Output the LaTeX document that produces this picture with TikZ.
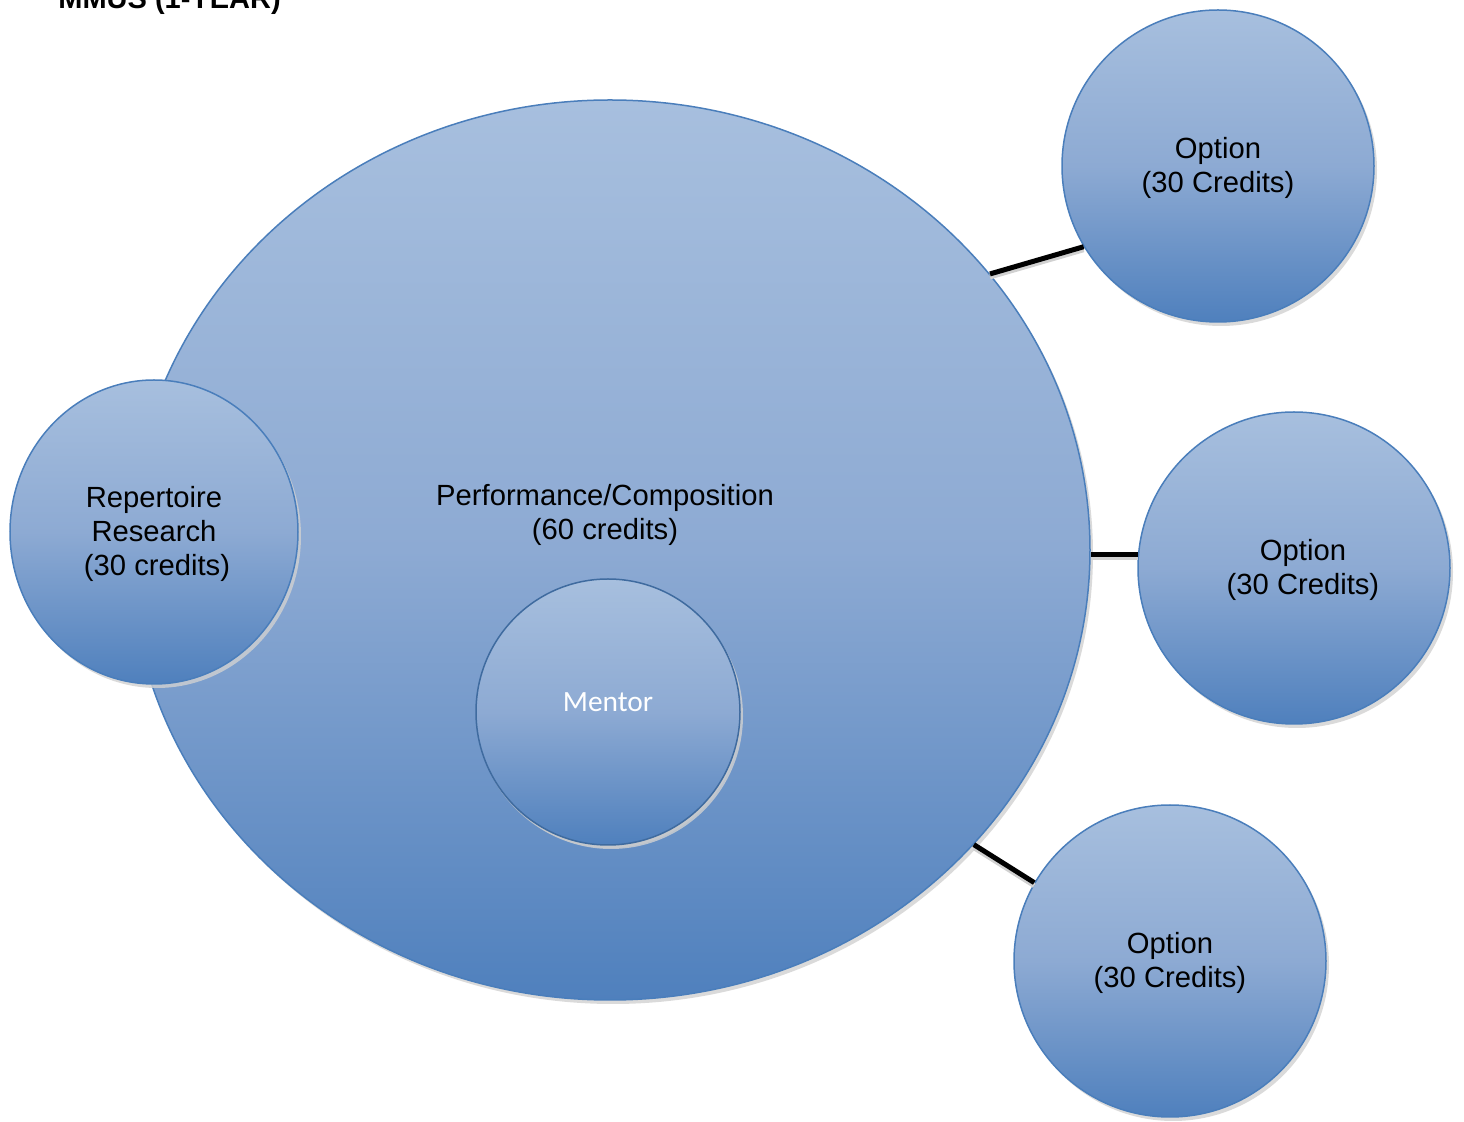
\documentclass[tikz,border=0pt]{standalone}
\usepackage{fontspec}
\setmainfont{Liberation Sans}
\newfontfamily\calibrifont{Carlito}
\usetikzlibrary{shapes.geometric,shadows}
\definecolor{lightblue}{HTML}{A7BFDE}
\definecolor{midblue}{HTML}{8DAAD3}
\definecolor{darkblue}{HTML}{4F80BD}
\definecolor{edgeblue}{HTML}{4A7EBB}
\newcommand\lowered[1]{\raisebox{-1.5pt}[\height][\depth]{\begin{tabular}{@{}c@{}}#1\end{tabular}}}
\tikzset{
  blob/.style={shape=ellipse, inner sep=0pt, draw=edgeblue, line width=0.75pt,
    top color=lightblue, bottom color=darkblue, middle color=midblue,
    align=center, font=\fontsize{14.6}{17}\selectfont, text=black,
    drop shadow={shadow xshift=1.5pt, shadow yshift=-2pt, fill=black!18, opacity=0.8}},
  optblob/.style={blob, minimum width=156pt, minimum height=156pt},
  link/.style={line width=2.5pt, draw=black,
    preaction={draw=black!18, line width=2.5pt, transform canvas={yshift=-1.5pt}}},
  lbl/.style={align=center, font=\fontsize{14.6}{17}\selectfont, inner sep=0pt}
}
\begin{document}
\begin{tikzpicture}[x=0.5pt,y=-0.5pt]
\useasboundingbox (0,0) rectangle (1464,1122);
\clip (0,0) rectangle (1464,1122);
% title (cut off at the top, as in the reference)
\node[anchor=base west, inner sep=0pt, font=\fontsize{14.5}{17}\selectfont\bfseries] (title) at (58,9) {MMUS (1-YEAR)};
% main ellipse
\node[blob, minimum width=480pt, minimum height=450pt] (main) at (610,550) {};
\node[lbl] (maintext) at (605,515) {Performance/Composition\\(60 credits)};
% mentor
\node[blob, minimum width=132pt, minimum height=133pt, draw=edgeblue!85!black,
  font=\fontsize{14.7}{17}\selectfont\calibrifont, text=white,
  drop shadow={shadow xshift=0.5pt, shadow yshift=-1.5pt, fill=black!20, opacity=0.6}] (mentor) at (608,712) {Mentor\\[-7pt]\mbox{}};
% repertoire
\node[blob, minimum width=144pt, minimum height=152pt] (rep) at (154,532) {\lowered{Repertoire\\Research\\\hspace*{3pt}(30 credits)}};
% options
\node[optblob] (opt1) at (1218,166) {\lowered{Option\\(30 Credits)}};
\node[optblob] (opt2) at (1294,568) {\lowered{\hspace*{9pt}Option\\\hspace*{9pt}(30 Credits)}};
\node[optblob] (opt3) at (1170,961) {\lowered{Option\\(30 Credits)}};
% connectors
\draw[link] (main.36.5) -- (opt1.211);
\draw[link] (opt2.175) -- (opt2.175 -| main.east);
\draw[link] (main.-39.3) -- (opt3.150);
\end{tikzpicture}
\end{document}
